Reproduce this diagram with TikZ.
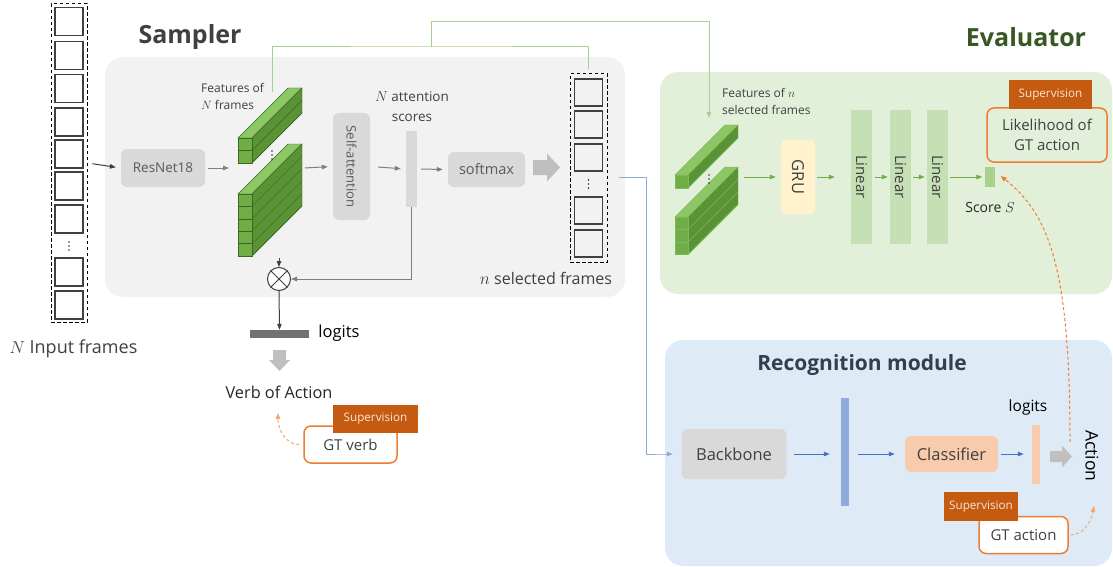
\documentclass[tikz,border=0pt]{standalone}
\usepackage{fontspec}
\setmainfont{Open Sans}
\usetikzlibrary{arrows.meta}

\definecolor{txtgray}{HTML}{404040}
\definecolor{boxtxt}{HTML}{595959}
\definecolor{framegray}{HTML}{404040}
\definecolor{panelgray}{HTML}{F2F2F2}
\definecolor{boxgray}{HTML}{D9D9D9}
\definecolor{arrgray}{HTML}{7F7F7F}
\definecolor{bigarrow}{HTML}{BFBFBF}
\definecolor{logitgray}{HTML}{767171}
\definecolor{evalbg}{HTML}{E2F0D9}
\definecolor{evaltitle}{HTML}{385723}
\definecolor{lineargreen}{HTML}{C5E0B4}
\definecolor{scoregreen}{HTML}{A9D18E}
\definecolor{linkgreen}{HTML}{A9D18E}
\definecolor{arrgreen}{HTML}{70AD47}
\definecolor{gruyellow}{HTML}{FFF2CC}
\definecolor{recbg}{HTML}{DEEBF7}
\definecolor{rectitle}{HTML}{333F50}
\definecolor{featblue}{HTML}{8FAADC}
\definecolor{arrblue}{HTML}{4472C4}
\definecolor{clspeach}{HTML}{F8CBAD}
\definecolor{supred}{HTML}{C55A11}
\definecolor{supfont}{HTML}{FBE5D6}
\definecolor{gtorange}{HTML}{ED7D31}
\definecolor{featfront}{HTML}{70AD47}
\definecolor{feattop}{HTML}{8CC665}
\definecolor{featside}{HTML}{5A9236}
\definecolor{featedge}{HTML}{38691E}
\definecolor{featedgelight}{HTML}{7DB85A}

\newcommand{\slabstack}[7][featedge]{%
    \draw[fill=feattop, draw=#1] (#2,#3) -- ({#2+#4},#3) -- ({#2+#4+#7},{#3-#7}) -- ({#2+#7},{#3-#7}) -- cycle;
    \draw[fill=featside, draw=#1] ({#2+#4},#3) -- ({#2+#4+#7},{#3-#7}) -- ({#2+#4+#7},{#3-#7+#6*#5}) -- ({#2+#4},{#3+#6*#5}) -- cycle;
    \foreach \k in {1,...,#6} {
        \draw[fill=featfront, draw=#1] (#2,{#3+(\k-1)*#5}) rectangle ({#2+#4},{#3+\k*#5});
        \draw[#1] ({#2+#4},{#3+\k*#5}) -- ++(#7,-#7);
    }
}
\newcommand{\blockarrow}[6]{%
    \fill[bigarrow, shift={#1}, rotate=#2] (0,-#5) -- (#3,-#5) -- (#3,-#6) -- ({#3+#4},0) -- (#3,#6) -- (#3,#5) -- (0,#5) -- cycle;
}
\newcommand{\dotcol}[2]{%
    \foreach \d in {-4,0,4} {
        \fill[black!80] (#1,{#2+\d}) circle (0.9pt);
    }
}

\begin{document}
\begin{tikzpicture}[x=1pt, y=-1pt, >={Triangle[length=6pt,width=4.5pt]},
    lbl/.style={inner sep=0, text=txtgray},
    title/.style={lbl, font=\fontsize{25}{30}\selectfont\bfseries},
    frame/.style={draw=framegray, line width=1.3pt, minimum width=28pt, minimum height=28pt, inner sep=0},
    column/.style={draw=black, dash pattern=on 3.5pt off 2.5pt, line width=1pt, inner sep=0},
    panel/.style={rounded corners=18pt, inner sep=0},
    box/.style={rounded corners=6pt, fill=boxgray, text=boxtxt, inner sep=0},
    bar/.style={inner sep=0},
    sup/.style={fill=supred, text=supfont, inner sep=0, font=\fontsize{11.7}{14}\selectfont},
    gt/.style={draw=gtorange, line width=1.5pt, rounded corners=7pt, inner sep=0, text=txtgray},
    arr/.style={->, draw=arrgray, line width=1pt, shorten <=4pt, shorten >=5pt},
    garr/.style={arr, draw=arrgreen},
    barr/.style={arr, draw=arrblue},
    supdash/.style={->, draw=gtorange, line width=1pt, dash pattern=on 3pt off 2.5pt},
    link/.style={draw=linkgreen, line width=1pt}]

    \useasboundingbox (0,0) rectangle (1113,567);

    % panels
    \node[panel, fill=panelgray, minimum width=520pt, minimum height=240pt] (samplerbg) at (365,177) {};
    \node[panel, fill=evalbg, minimum width=452pt, minimum height=222pt] (evalbg) at (886,183) {};
    \node[panel, fill=recbg, minimum width=447pt, minimum height=226pt] (recbg) at (888.5,453) {};

    \node[title] (samplertitle) at (190,37) {Sampler};
    \node[title, text=evaltitle] (evaltitle) at (1026,37) {Evaluator};
    \node[title, text=rectitle, font=\fontsize{21}{25}\selectfont\bfseries] (rectitle) at (862,365) {Recognition module};

    % input frames
    \node[column, minimum width=36pt, minimum height=318pt] (inframes) at (69,163) {};
    \foreach \y [count=\i] in {21.5,55.5,88.5,122,154,186,219,272,305} {
        \node[frame] (f\i) at (69,\y) {};
    }
    \dotcol{69}{246}
    \node[lbl, font=\fontsize{18}{21}\selectfont] (inlabel) at (73.5,349) {$N$ Input frames};

    % sampler
    \node[box, minimum width=84pt, minimum height=38pt, font=\fontsize{13.5}{16}\selectfont] (resnet) at (163,168) {ResNet18};

    \slabstack{238}{138}{14}{12.5}{2}{50}
    \slabstack{238}{194}{14}{12.4}{5}{50}
    \dotcol{272}{155}
    \node[lbl, align=left, anchor=west, font=\fontsize{12}{17}\selectfont] (featNlabel) at (201,96) {Features of\\$N$ frames};
    \coordinate (featNin) at (229,168);
    \coordinate (featNout) at (304,168);
    \coordinate (featNbot) at (279,258);
    \coordinate (featNtop) at (272,92);

    \node[box, minimum width=37pt, minimum height=107pt,
        label={[rotate=-90, text=boxtxt, font=\fontsize{13}{15}\selectfont]center:Self-attention}] (selfatt) at (351.5,166.5) {};
    \node[bar, fill=boxgray, minimum width=11pt, minimum height=76pt] (scores) at (411.5,169) {};
    \node[lbl, align=center, font=\fontsize{13.5}{20}\selectfont] (scoreslabel) at (412,107) {$N$ attention\\scores};
    \node[box, minimum width=77pt, minimum height=35pt, font=\fontsize{14.5}{17}\selectfont] (softmax) at (486.5,169.5) {softmax};
    \blockarrow{(533,167.5)}{0}{14}{13}{7.5}{14}

    \node[column, minimum width=37pt, minimum height=188pt] (selframes) at (588.5,168) {};
    \foreach \y [count=\i] in {92.5,124.5,157.5,210.5,243.5} {
        \node[frame, minimum height=27pt] (s\i) at (588.5,\y) {};
    }
    \dotcol{588.5}{184}
    \node[lbl, font=\fontsize{16}{19}\selectfont] (sellabel) at (546,278) {$n$ selected frames};

    \node[circle, draw=txtgray, line width=1pt, fill=white, minimum size=23pt, inner sep=0] (mult) at (279,279) {};
    \draw[txtgray, line width=1pt] (mult.north east) -- (mult.south west) (mult.north west) -- (mult.south east);

    \node[bar, fill=logitgray, minimum width=59pt, minimum height=8pt] (vlogits) at (279.5,334) {};
    \node[lbl, text=black, font=\fontsize{16.5}{19}\selectfont] (vlogitslabel) at (339,333) {logits};
    \blockarrow{(279.5,350)}{-90}{10}{11}{6.5}{10.5}
    \node[lbl, text=black!85, font=\fontsize{16.3}{19}\selectfont] (verb) at (279,392) {Verb of Action};

    \node[gt, fill=white, minimum width=93pt, minimum height=37pt, font=\fontsize{15}{18}\selectfont] (gtverb) at (350.5,444.5) {GT verb};
    \node[sup, minimum width=85pt, minimum height=28pt] (supverb) at (375.5,419) {Supervision};

    \draw[arr, draw=black!75, shorten <=5pt] (inframes.east) -- (resnet.west);
    \draw[arr, shorten <=3pt, shorten >=0pt] (resnet.east) -- (featNin);
    \draw[arr, shorten <=1pt] (featNout) -- (selfatt.west);
    \draw[arr, shorten <=8pt] (selfatt.east) -- (scores.west);
    \draw[arr] (scores.east) -- (softmax.west);
    \draw[arr, draw=txtgray, shorten <=0pt, shorten >=0pt] (featNbot) -- (mult.north);
    \draw[arr, shorten <=0pt, shorten >=0pt] (scores.south) |- (mult.east);
    \draw[arr, draw=txtgray, shorten <=0pt, shorten >=0pt] (mult.south) -- (vlogits.north);
    \draw[supdash, draw=gtorange!70] (gtverb.west) ++(-4,0) to[out=180, in=-90] (278,413);

    % evaluator
    \slabstack[featedgelight]{675}{175}{13}{13}{1}{50}
    \slabstack[featedgelight]{675}{217}{13}{12.5}{3}{50}
    \dotcol{709}{179}
    \node[lbl, align=left, anchor=west, font=\fontsize{12}{17}\selectfont] (featnlabel) at (722,101) {Features of $n$\\selected frames};
    \coordinate (featnout) at (744,177);
    \coordinate (featnin) at (709,118);

    \node[box, fill=gruyellow, minimum width=34pt, minimum height=75pt,
        label={[rotate=-90, text=txtgray, font=\fontsize{16.5}{19}\selectfont]center:GRU}] (gru) at (798,177) {};
    \foreach \x [count=\i] in {861.5,900.5,937.5} {
        \node[bar, fill=lineargreen, minimum width=21pt, minimum height=133pt,
            label={[rotate=-90, text=txtgray, font=\fontsize{15}{18}\selectfont]center:Linear}] (lin\i) at (\x,177) {};
    }
    \node[bar, fill=scoregreen, minimum width=10pt, minimum height=20pt] (score) at (989.5,177) {};
    \node[lbl, text=black!85, font=\fontsize{14}{17}\selectfont] (scorelabel) at (990,207) {Score $S$};

    \node[gt, minimum width=120pt, minimum height=54pt, align=center, font=\fontsize{15}{20}\selectfont] (likeli) at (1047,135) {Likelihood of\\GT action};
    \node[sup, minimum width=83pt, minimum height=29pt] (supeval) at (1050.5,94.5) {Supervision};

    \draw[garr, shorten <=0pt] (featnout) -- (gru.west);
    \draw[garr, shorten <=2pt, shorten >=16pt] (gru.east) -- (lin1.west);
    \draw[garr, shorten <=3pt, shorten >=2pt] (lin1.east) -- (lin2.west);
    \draw[garr, shorten <=2pt, shorten >=2pt] (lin2.east) -- (lin3.west);
    \draw[garr, shorten <=2pt, shorten >=2pt] (lin3.east) -- (score.west);

    % links between the modules
    \coordinate (linkjoin) at (431,47);
    \draw[link] (featNtop) |- (linkjoin) -| ([yshift=4pt]selframes.north);
    \draw[link, ->] (linkjoin) -- ++(0,-25) -| (featnin);
    \draw[->, draw=featblue, line width=1pt, shorten >=8pt] ([shift={(11,9)}]selframes.east) -- ++(28,0) |- (recbg.west |- 0,454) -- ++(16,0);

    % recognition module
    \node[box, minimum width=105pt, minimum height=50pt, text=txtgray, font=\fontsize{16.5}{19}\selectfont] (backbone) at (734,454) {Backbone};
    \node[bar, fill=featblue, minimum width=8pt, minimum height=108pt] (rfeat) at (845,452) {};
    \node[box, fill=clspeach, minimum width=93pt, minimum height=36pt, text=txtgray, font=\fontsize{16.5}{19}\selectfont] (classifier) at (951.5,454) {Classifier};
    \node[bar, fill=clspeach, minimum width=8pt, minimum height=59pt] (rlogits) at (1036,454) {};
    \node[lbl, text=black, font=\fontsize{15.5}{18}\selectfont] (rlogitslabel) at (1028,407) {logits};
    \blockarrow{(1050,456.5)}{0}{12}{10}{5.5}{11}
    \node[lbl, text=black, rotate=-90, font=\fontsize{17.5}{21}\selectfont] (action) at (1092,456) {Action};

    \node[gt, fill=white, minimum width=89pt, minimum height=37pt, font=\fontsize{15}{18}\selectfont] (gtaction) at (1023.5,535) {GT action};
    \node[sup, minimum width=74pt, minimum height=29pt] (supact) at (981,506.5) {Supervision};

    \draw[barr, shorten <=7pt, shorten >=11pt] (backbone.east) -- (rfeat.west |- backbone.east);
    \draw[barr, shorten <=9pt, shorten >=10pt] (rfeat.east |- classifier.west) -- (classifier.west);
    \draw[barr, shorten <=3pt, shorten >=8pt] (classifier.east) -- (rlogits.west);

    \coordinate (acttop) at (1070,442);
    \coordinate (actfoot) at (1094,506);
    \draw[supdash] (acttop) .. controls (1070,270) and (1050,215) .. ([shift={(6,-1)}]score.east);
    \draw[supdash, draw=gtorange!70, shorten <=2pt] (gtaction.east) to[out=0, in=-100] (actfoot);
\end{tikzpicture}
\end{document}
